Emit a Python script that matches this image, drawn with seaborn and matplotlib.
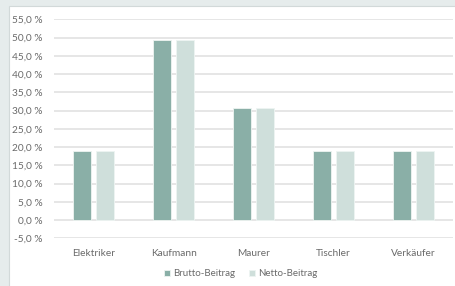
import pandas as pd
import matplotlib.pyplot as plt
import seaborn as sns
from matplotlib.ticker import FuncFormatter, MultipleLocator
from matplotlib.patches import Rectangle

sns.set_style("white")
plt.rcParams["font.family"] = ["Lato", "DejaVu Sans"]

berufe = ["Elektriker", "Kaufmann", "Maurer", "Tischler", "Verkäufer"]
brutto = [19.0, 49.2, 30.6, 19.0, 19.0]
netto = [19.0, 49.2, 30.6, 19.0, 19.0]
serien = ["Brutto-Beitrag", "Netto-Beitrag"]

df = pd.DataFrame({
    "Beruf": berufe * 2,
    "Wert": brutto + netto,
    "Serie": [serien[0]] * len(berufe) + [serien[1]] * len(berufe),
})

fig = plt.figure(figsize=(4.56, 2.86), dpi=100, facecolor="#e6ecec")
# white card behind the chart
fig.patches.append(Rectangle((9 / 456, -0.05), 1.1, 1.05 - 6 / 286, transform=fig.transFigure,
                             facecolor="white", edgecolor="#d2d9d9", lw=0.8, zorder=-10))

ax = fig.add_axes([54 / 456, 1 - 238.3 / 286, (453 - 54) / 456, (238.3 - 19.3) / 286])
ax.set_facecolor("white")

sns.barplot(data=df, x="Beruf", y="Wert", hue="Serie", ax=ax,
            palette=["#8aafa7", "#cfdfdb"], saturation=1, width=0.575, gap=0.22,
            edgecolor="#eef4f2", linewidth=0.6)

ax.set_ylim(-5, 55)
ax.set_xlim(-0.5, 4.5)
ax.yaxis.set_major_locator(MultipleLocator(5))
ax.yaxis.set_major_formatter(FuncFormatter(lambda v, p: f"{v:.1f} %".replace(".", ",")))
ax.grid(axis="y", color="#e2e2e2", lw=1.2)
ax.set_axisbelow(True)
for s in ax.spines.values():
    s.set_visible(False)
ax.tick_params(axis="both", length=0, labelsize=7.3, labelcolor="#6a6a6a")
ax.tick_params(axis="y", pad=8)
ax.tick_params(axis="x", pad=8)
ax.set_xlabel("")
ax.set_ylabel("")

ax.legend(loc="center", bbox_to_anchor=(241 / 456, 1 - 274 / 286), bbox_transform=fig.transFigure,
          ncol=2, frameon=False, fontsize=7, labelcolor="#6a6a6a",
          handlelength=0.6, handleheight=0.6, handletextpad=0.35, columnspacing=1.4)

plt.savefig("out.png", dpi=100, facecolor=fig.get_facecolor())
